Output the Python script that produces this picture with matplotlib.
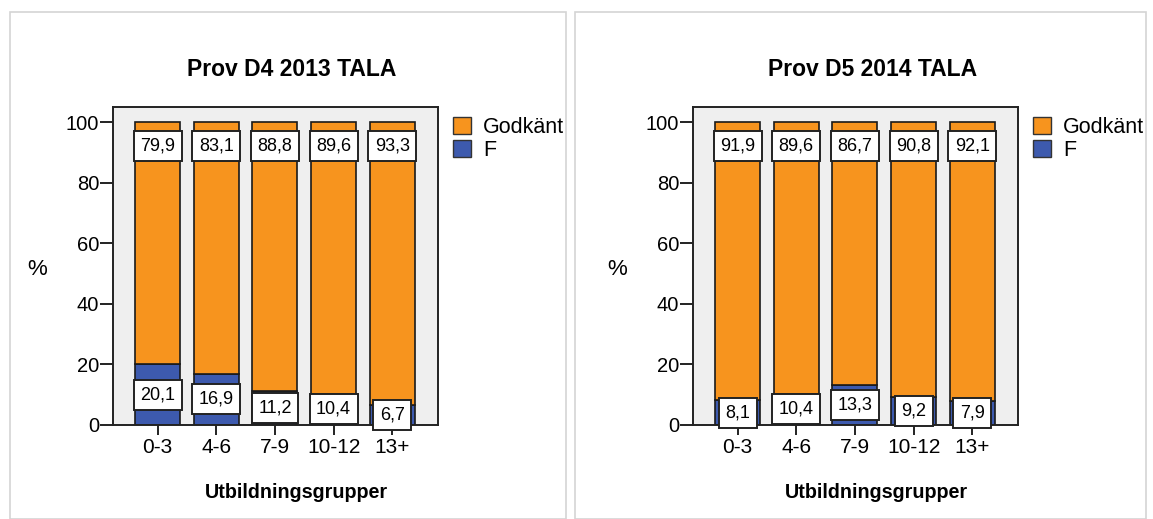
import matplotlib
matplotlib.use("Agg")
import matplotlib.pyplot as plt
from matplotlib.patches import Rectangle, Patch

plt.rcParams['font.family'] = ['Liberation Sans', 'DejaVu Sans']

categories = ["0-3", "4-6", "7-9", "10-12", "13+"]
titles = ["Prov D4 2013 TALA", "Prov D5 2014 TALA"]
godkant = [[79.9, 83.1, 88.8, 89.6, 93.3],
           [91.9, 89.6, 86.7, 90.8, 92.1]]
f_vals = [[20.1, 16.9, 11.2, 10.4, 6.7],
          [8.1, 10.4, 13.3, 9.2, 7.9]]
series_names = ["Godkänt", "F"]
yticks = [0, 20, 40, 60, 80, 100]

ORANGE = "#F7941E"
BLUE = "#3D5AAE"
BG = "#EFEFEF"

W, H = 1153, 519
fig = plt.figure(figsize=(W / 100, H / 100), dpi=100)
fig.patch.set_facecolor("white")

def fx(px):
    return px / W

def fy(py):
    return 1 - py / H

# panel frames
for x0, x1 in [(10, 566), (575, 1146)]:
    fig.add_artist(Rectangle((fx(x0), fy(519)), fx(x1 - x0), (519 - 12) / H,
                             transform=fig.transFigure, fill=False,
                             edgecolor="#D4D4D4", linewidth=1.2))

ax_left_px = [113, 693]
for k in range(2):
    left = ax_left_px[k]
    ax = fig.add_axes([fx(left), fy(425), fx(325), 318 / H])
    ax.set_facecolor(BG)
    x = list(range(len(categories)))
    ax.bar(x, f_vals[k], width=0.77, color=BLUE, edgecolor="#1a1a1a", linewidth=1.2, zorder=2)
    ax.bar(x, godkant[k], width=0.77, bottom=f_vals[k], color=ORANGE,
           edgecolor="#1a1a1a", linewidth=1.2, zorder=2)
    ax.set_xlim(-0.76, 4.78)
    ax.set_ylim(0, 105)
    ax.set_xticks(x)
    ax.set_xticklabels(categories, fontsize=15)
    ax.set_yticks(yticks)
    ax.set_yticklabels([str(t) for t in yticks], fontsize=14.5)
    ax.tick_params(axis="x", direction="out", length=7.5, width=1.4, color="#222222", pad=2)
    ax.tick_params(axis="y", direction="out", length=9.5, width=1.4, color="#222222", pad=0.5)
    for s in ax.spines.values():
        s.set_color("#222222")
        s.set_linewidth(1.4)
    # data labels
    for i in x:
        g = godkant[k][i]
        f = f_vals[k][i]
        ax.text(i, 92.0, f"{g:.1f}".replace(".", ","), ha="center", va="center", fontsize=13,
                zorder=5, bbox=dict(boxstyle="square,pad=0.36", facecolor="white",
                                    edgecolor="#222222", linewidth=1.4))
        ax.text(i, f / 2, f"{f:.1f}".replace(".", ","), ha="center", va="center",
                fontsize=13, zorder=5, clip_on=False,
                bbox=dict(boxstyle="square,pad=0.36", facecolor="white",
                          edgecolor="#222222", linewidth=1.4))
    ax.text(0.551, 1.119, titles[k], transform=ax.transAxes, ha="center", va="center",
            fontsize=16.5, fontweight="bold")
    ax.set_xlabel("Utbildningsgrupper", fontsize=14.2, fontweight="bold",
                  va="center", ha="center")
    ax.xaxis.set_label_coords(0.563, -0.213)
    ax.set_ylabel("%", fontsize=16, rotation=0, va="center", ha="center")
    ax.yaxis.set_label_coords(-0.232, 0.49)
    handles = [Patch(facecolor=ORANGE, edgecolor="#333333"),
               Patch(facecolor=BLUE, edgecolor="#333333")]
    leg = ax.legend(handles, series_names, loc="upper left", bbox_to_anchor=(1.045, 0.97),
                    frameon=False, fontsize=15.5, handlelength=0.85, handleheight=0.85,
                    handletextpad=0.55, labelspacing=0.12, borderaxespad=0.0,
                    borderpad=0.0)

fig.savefig("out.png", dpi=100)
